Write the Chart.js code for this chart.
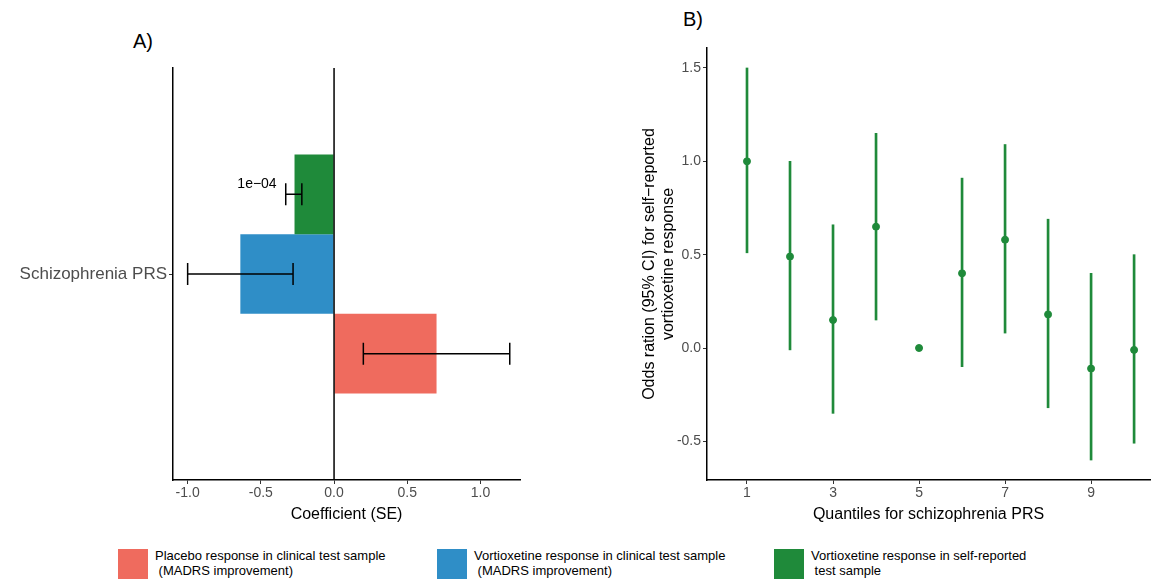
<!DOCTYPE html>
<html><head><meta charset="utf-8">
<script src="https://cdn.jsdelivr.net/npm/chart.js@4"></script>
<style>
body{margin:0;width:1157px;height:581px;background:#fff;font-family:"Liberation Sans",Arial,sans-serif;position:relative;overflow:hidden}
canvas{position:absolute}
.lab{position:absolute;font-size:20px;color:#000}
.leg{position:absolute;top:548px;font-size:13px;line-height:15px;color:#000}
.sw{position:absolute;top:549px;width:30px;height:30px}
</style></head><body>
<div class="lab" style="left:133px;top:30px">A)</div>
<div class="lab" style="left:683px;top:8px">B)</div>
<canvas id="a" style="left:0;top:0"></canvas>
<canvas id="b" style="left:640px;top:0"></canvas>
<div class="sw" style="left:118px;background:#ef6b5e"></div>
<div class="leg" style="left:155px">Placebo response in clinical test sample<br>&nbsp;(MADRS improvement)</div>
<div class="sw" style="left:437px;background:#2f8ec7"></div>
<div class="leg" style="left:474px">Vortioxetine response in clinical test sample<br>&nbsp;(MADRS improvement)</div>
<div class="sw" style="left:774px;background:#1f8a3a"></div>
<div class="leg" style="left:811px">Vortioxetine response in self-reported<br>&nbsp;test sample</div>
<script>
(() => {
  "use strict";

  // Panel A
  const categoryA = ["Schizophrenia PRS"];
  const seriesA = ["Vortioxetine self-reported", "Vortioxetine clinical", "Placebo clinical"];
  const coefA = [-0.27, -0.64, 0.70];
  const lowA = [-0.33, -1.0, 0.20];
  const highA = [-0.22, -0.28, 1.20];
  const colorsA = ["#1f8a3a", "#2f8ec7", "#ef6b5e"];
  const ticksA = [-1.0, -0.5, 0.0, 0.5, 1.0];

  // Panel B
  const quantiles = [1, 2, 3, 4, 5, 6, 7, 8, 9, 10];
  const oddsB = [1.0, 0.49, 0.15, 0.65, 0.0, 0.40, 0.58, 0.18, -0.11, -0.01];
  const lowB = [0.51, -0.01, -0.35, 0.15, null, -0.10, 0.08, -0.32, -0.60, -0.51];
  const highB = [1.50, 1.00, 0.66, 1.15, null, 0.91, 1.09, 0.69, 0.40, 0.50];
  const ticksBx = [1, 3, 5, 7, 9];
  const ticksBy = [-0.5, 0.0, 0.5, 1.0, 1.5];

  const font = { family: "Liberation Sans, Arial, sans-serif" };
  const grey = "#4d4d4d";
  const tickGrid = { drawOnChartArea: false, offset: false, tickLength: 4, color: "#333", lineWidth: 1 };

  const errorBars = {
    id: "errorBars",
    afterDatasetsDraw(chart) {
      const { ctx, scales: { x } } = chart;
      ctx.save();
      ctx.strokeStyle = "#000";
      ctx.lineWidth = 1.5;
      chart.data.datasets.forEach((ds, i) => {
        const y = chart.getDatasetMeta(i).data[0].y;
        const x1 = x.getPixelForValue(lowA[i]);
        const x2 = x.getPixelForValue(highA[i]);
        ctx.beginPath();
        ctx.moveTo(x1, y); ctx.lineTo(x2, y);
        ctx.moveTo(x1, y - 11); ctx.lineTo(x1, y + 11);
        ctx.moveTo(x2, y - 11); ctx.lineTo(x2, y + 11);
        ctx.stroke();
      });
      const z = x.getPixelForValue(0);
      ctx.beginPath();
      ctx.moveTo(z, chart.chartArea.top); ctx.lineTo(z, chart.chartArea.bottom);
      ctx.stroke();
      ctx.font = "14px Liberation Sans, Arial, sans-serif";
      ctx.fillStyle = "#000";
      ctx.textAlign = "center";
      ctx.textBaseline = "middle";
      const g = chart.getDatasetMeta(0).data[0];
      ctx.fillText("1e\u221204", 257, g.y - 10);
      ctx.restore();
    }
  };

  const cA = document.getElementById("a");
  cA.width = 530; cA.height = 535;
  new Chart(cA, {
    type: "bar",
    data: {
      labels: categoryA,
      datasets: seriesA.map((s, i) => ({
        label: s, data: [coefA[i]], backgroundColor: colorsA[i],
        barPercentage: 1, categoryPercentage: 0.58
      }))
    },
    options: {
      indexAxis: "y", responsive: false, animation: false,
      layout: { padding: { top: 68, right: 10, bottom: 11 } },
      plugins: { legend: { display: false }, tooltip: { enabled: false } },
      scales: {
        x: {
          min: -1.1, max: 1.27,
          grid: tickGrid,
          border: { color: "#000", width: 1.5 },
          afterBuildTicks: s => { s.ticks = ticksA.map(v => ({ value: v })); },
          ticks: { color: grey, font: { ...font, size: 14 }, padding: 1, callback: v => v.toFixed(1) },
          title: { display: true, text: "Coefficient (SE)", color: "#000", font: { ...font, size: 16 }, padding: 0 },
          afterFit: s => { s.height = 44; }
        },
        y: {
          grid: tickGrid,
          border: { color: "#000", width: 1.5 },
          ticks: { color: grey, font: { ...font, size: 17 }, padding: 2 },
          afterFit: s => { s.width = 173; }
        }
      }
    },
    plugins: [errorBars]
  });

  const cB = document.getElementById("b");
  cB.width = 517; cB.height = 535;
  new Chart(cB, {
    data: {
      datasets: [
        {
          type: "bar",
          data: quantiles.map((q, i) => ({ x: q, y: lowB[i] === null ? null : [lowB[i], highB[i]] })),
          backgroundColor: "#1f8a3a", barThickness: 2
        },
        {
          type: "scatter",
          data: quantiles.map((q, i) => ({ x: q, y: oddsB[i] })),
          backgroundColor: "#1f8a3a", borderColor: "#1f8a3a", pointRadius: 3.5
        }
      ]
    },
    options: {
      responsive: false, animation: false,
      layout: { padding: { top: 48, right: 7, bottom: 11 } },
      plugins: { legend: { display: false }, tooltip: { enabled: false } },
      scales: {
        x: {
          type: "linear", min: 0.07, max: 10.37, offset: false,
          grid: tickGrid,
          border: { color: "#000", width: 1.5 },
          afterBuildTicks: s => { s.ticks = ticksBx.map(v => ({ value: v })); },
          ticks: { color: grey, font: { ...font, size: 14 }, padding: 1 },
          title: { display: true, text: "Quantiles for schizophrenia PRS", color: "#000", font: { ...font, size: 16 }, padding: 0 },
          afterFit: s => { s.height = 44; }
        },
        y: {
          min: -0.707, max: 1.607,
          grid: tickGrid,
          border: { color: "#000", width: 1.5 },
          afterBuildTicks: s => { s.ticks = ticksBy.map(v => ({ value: v })); },
          ticks: { color: grey, font: { ...font, size: 14 }, padding: 2, callback: v => v.toFixed(1) },
          title: { display: true, text: ["Odds ration (95% CI) for self\u2212reported", "vortioxetine response"], color: "#000", font: { ...font, size: 16 }, padding: 0 },
          afterFit: s => { s.width = 67; }
        }
      }
    }
  });
})();
</script>
</body></html>
